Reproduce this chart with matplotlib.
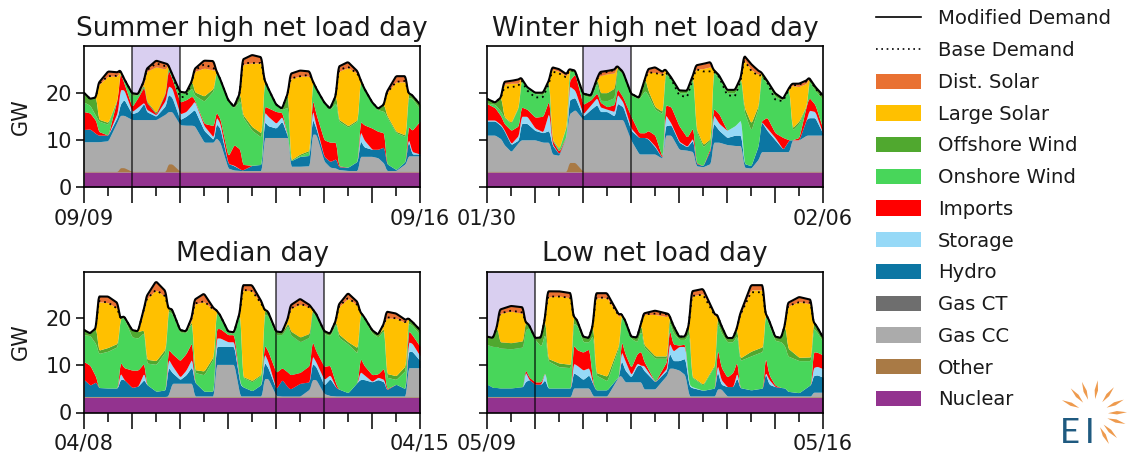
import numpy as np
import matplotlib
matplotlib.use("Agg")
import matplotlib.pyplot as plt
from matplotlib.patches import Patch, Polygon
from matplotlib.lines import Line2D

plt.rcParams['font.family'] = ['DejaVu Sans']

FIG_W, FIG_H = 1141, 453
NUCLEAR = 3.2

# ----- hours of the day where values were read, per panel -----
HOURS_SUMMER = [0, 3, 6, 7.2, 12, 16.8, 18, 20]
HOURS_WINTER = [0, 4, 7, 8.5, 12, 15.8, 17, 20]
HOURS_MEDIAN = [0, 3, 6, 7.2, 12, 16.8, 18, 20]
HOURS_LOW = [0, 3, 5, 6.3, 12, 18, 19, 21]

# ----- summer high net load week: top of each layer, GW -----
S_DEMAND = [20, 18.7, 19, 22, 24.5, 24.3, 24.8, 23,
            19.9, 19.7, 22.5, 25, 26.8, 26.2, 26, 24,
            20.2, 20, 22.5, 25, 26.8, 26.7, 24.8, 23,
            18.5, 17, 20, 27, 28, 27.5, 23, 21,
            17.5, 16.6, 20, 24, 24.7, 24.5, 22.8, 21,
            18, 16.6, 19.5, 25.5, 26.5, 24.5, 23, 21,
            18, 16.6, 17.5, 20, 23.5, 23.5, 20, 19.5, 17.5]
S_BASE = [20, 18.7, 19, 21.8, 23.5, 23.6, 24.6, 23,
          19.9, 19.7, 22.4, 24.7, 26.2, 25.6, 26, 24,
          19, 19.2, 22.4, 24.7, 26, 25.2, 24.8, 23,
          18.5, 17, 20, 26.3, 26.3, 26.3, 23, 21,
          17.5, 16.6, 20, 23, 23.5, 23.8, 22.8, 21,
          18, 16.6, 19.5, 24.8, 25.5, 24, 23, 21,
          18, 16.6, 17.5, 19.8, 22.3, 22.5, 20, 19.5, 17.5]
S_SOLAR = [0, 0, 0, 21.6, 23.5, 23.5, 0, 0,
           0, 0, 22, 24.5, 25.5, 25, 0, 0,
           0, 0, 0, 24.5, 25.2, 24.8, 0, 0,
           0, 0, 0, 26, 26.3, 26.3, 0, 0,
           0, 0, 0, 23, 23.5, 23.5, 0, 0,
           0, 0, 0, 24.5, 25.3, 24, 0, 0,
           0, 0, 0, 19.8, 22.3, 22.3, 0, 0, 0]
S_OFFSHORE = [20, 18.7, 15.5, 14.4, 13.7, 16.3, 24.8, 23,
              19.9, 19.7, 21.8, 18.3, 15.8, 20.2, 26, 24,
              20.2, 20, 21.5, 20.2, 19.3, 21, 24.8, 23,
              18.5, 17, 18.8, 15.5, 12.8, 11.4, 23, 21,
              17.5, 16.6, 17.2, 5.7, 7, 7.8, 22.8, 21,
              18, 16.6, 18.2, 14.4, 13, 14.3, 23, 21,
              18, 16.6, 16.5, 15.4, 11.8, 11, 20, 19.5, 17.5]
S_ONSHORE = [18, 17.3, 15, 14, 13.3, 16, 24.5, 22.5,
             19.4, 19.6, 21.5, 18, 15.6, 20, 25.5, 24.3,
             20, 19.8, 21, 19.5, 18.2, 20.5, 24.6, 22.8,
             18.3, 16.8, 18.5, 15, 12, 10.5, 22.5, 20.8,
             17.3, 16.4, 17, 5.5, 6.7, 7.5, 22.5, 20.8,
             17.8, 16.5, 18, 14, 12.7, 14, 22.7, 20.8,
             17.8, 16.4, 16, 15, 11.5, 10.7, 19, 18.8, 16.5]
S_IMPORTS = [16, 15.7, 14, 11.8, 11, 19, 24.4, 22,
             17, 19, 21.3, 18, 15.5, 20, 25, 23,
             18, 18.5, 19.3, 18.5, 13.5, 13, 16, 14.5,
             6.5, 9, 8, 4.8, 4.6, 4.8, 17.2, 16.8,
             16, 15.8, 7, 5.5, 6.5, 6.7, 19, 15.5,
             10, 9.5, 9.5, 4.5, 4.2, 5.5, 14, 13.2,
             12.5, 11.8, 11.5, 5, 3.7, 5.5, 13, 12, 14]
S_STORAGE = [12.2, 12.3, 11.3, 11, 11, 16, 20.7, 20.6,
             16, 17, 18, 16.5, 15.3, 18.5, 21.5, 21,
             15.5, 16, 17.5, 18.3, 13, 10.5, 15, 13.5,
             5, 4.6, 3.8, 3.6, 4.6, 4.8, 16, 15,
             13.5, 15, 7, 5.5, 6.5, 6.7, 16.8, 13,
             6.5, 5.4, 6, 4.3, 4.2, 5.5, 12, 10,
             8, 8, 8.5, 5, 3.7, 5.5, 10.5, 7.5, 7]
S_HYDRO = [12.2, 12.3, 11.3, 11, 11, 15, 17.5, 18.6,
           15.5, 16, 17.8, 16, 15, 17.3, 19.7, 19,
           14.3, 15, 16, 16.5, 12, 10, 13.5, 12.5,
           5, 4.5, 3.8, 3.6, 4.6, 4.8, 14, 13,
           12.5, 14, 7, 5.5, 6.5, 6.7, 14.7, 12.5,
           6.5, 5.4, 6, 4.3, 4.2, 5.5, 10, 8.5,
           8, 8, 8.5, 5, 3.7, 5.5, 10, 7, 7]
S_GAS = [9.6, 9.6, 9.6, 9.6, 9.8, 14, 15.2, 15.2,
         14.3, 14.3, 14.3, 14.3, 14.3, 15.5, 16, 16,
         13.2, 13.1, 13.1, 13, 9.5, 9.5, 10.5, 9.5,
         4, 3.6, 3.5, 3.5, 3.5, 3.5, 10.5, 10.5,
         10.5, 10.5, 10.5, 4.4, 4.4, 4.5, 11.2, 11.2,
         5.5, 4.2, 4, 3.7, 3.5, 3.5, 6.5, 6.5,
         6.5, 6.2, 5, 3.5, 3.5, 5, 6.6, 6.6, 6.6]
S_OTHER = [0.1, 0.1, 0.1, 0.1, 0.1, 0.1, 0.9, 0.9,
           0.1, 0.1, 0.1, 0.1, 0.1, 0.1, 1.7, 1.7,
           0.1, 0.1, 0.1, 0.1, 0.1, 0.1, 0.1, 0.1,
           0.1, 0.1, 0.1, 0.1, 0.1, 0.1, 0.1, 0.1,
           0.1, 0.1, 0.1, 0.1, 0.1, 0.1, 0.1, 0.1,
           0.1, 0.1, 0.1, 0.1, 0.1, 0.1, 0.1, 0.1,
           0.1, 0.1, 0.1, 0.1, 0.1, 0.1, 0.1, 0.1, 0.1]

# ----- winter high net load week -----
W_DEMAND = [18.7, 17.9, 19, 22.3, 22.5, 22.8, 23.2, 21.2,
            20, 20, 22.6, 25.4, 25, 23.9, 25, 24.7,
            19.8, 19.4, 23, 24.4, 24.6, 24.9, 25.7, 24.4,
            19.8, 18.9, 23, 25, 25.4, 24.4, 25, 23.3,
            20.5, 20.4, 23.7, 25.8, 26.1, 26.5, 25, 23.7,
            20.6, 20.6, 23.3, 27.9, 26.1, 24.6, 24.4, 22.6,
            19.9, 18.7, 21, 21.9, 21.9, 22.6, 23.2, 21.3, 19.4]
W_BASE = [18.7, 17.9, 19, 21, 21.2, 21.4, 22.8, 20.5,
          19, 19, 22, 24.5, 24.1, 23.2, 24.8, 24.6,
          19.8, 19.4, 22.8, 24, 24.4, 24.8, 25.6, 24.4,
          19.8, 18.9, 22.8, 24.3, 24.2, 23.7, 24.5, 23,
          19.5, 19, 23, 25, 24.5, 24.5, 24.7, 23.4,
          19.5, 19.2, 22.8, 27, 24.7, 23.5, 23.8, 22.3,
          18.5, 18.2, 20.8, 21.5, 21.7, 22.4, 23, 21, 19]
W_SOLAR = [0, 0, 0, 21.8, 22, 22, 0, 0,
           0, 0, 0, 25, 24.5, 23.5, 0, 0,
           0, 0, 0, 23.6, 24, 24.2, 0, 0,
           0, 0, 0, 24.3, 24.3, 24, 0, 0,
           0, 0, 0, 25, 25.1, 25.5, 0, 0,
           0, 0, 0, 27, 24.9, 23.8, 0, 0,
           0, 0, 0, 21.5, 21.3, 22, 0, 0, 0]
W_OFFSHORE = [18, 18, 16.3, 14.9, 13.7, 17.2, 23, 21.2,
              20, 20, 22.5, 10.2, 8.2, 13.2, 25, 24.7,
              19.8, 19.4, 23, 20, 20, 21, 25.6, 24.4,
              19.8, 18.9, 21.5, 20.5, 17, 16, 25, 23.3,
              20.5, 20.4, 23.7, 12.5, 9, 10.3, 25, 23.7,
              20.6, 20.6, 23.3, 17, 13.5, 17.5, 24.3, 22.6,
              19.9, 18.7, 21, 12.5, 14, 17.5, 23.2, 21.3, 19.4]
W_ONSHORE = [17.8, 17.5, 16, 14.7, 13.5, 17, 22.8, 21,
             19.8, 19.6, 22, 10, 8, 13, 24.5, 24.5,
             19.5, 19, 22.3, 18.4, 18.3, 19, 25, 24,
             19.5, 18.7, 20.5, 19.5, 16.5, 15.5, 24, 23,
             20, 20, 23, 12, 8.5, 10, 24.5, 23,
             20, 20, 23, 16, 12, 17, 23.5, 22,
             19.2, 18.4, 21, 12, 13.5, 17, 22.5, 20.5, 18.5]
W_IMPORTS = [17.7, 16.8, 15, 13.5, 12, 13, 17, 16.5,
             14.8, 15, 18.5, 10, 7.5, 11, 22.5, 24,
             17.5, 18.5, 20, 18, 17, 17.5, 21, 19,
             15, 11.5, 11.5, 12, 11, 6, 17.5, 17,
             13, 10.5, 12.7, 5.2, 4.5, 8.5, 16.8, 15.5,
             12, 13, 14.3, 5, 4.5, 9, 14, 14.8,
             11.5, 10.5, 10, 9.5, 10.5, 17.5, 19, 17.5, 12.3]
W_STORAGE = [14.2, 14.2, 13.2, 12.2, 9.2, 11, 15, 15,
             12.5, 11.7, 16, 9.2, 7, 11, 21.5, 20.5,
             15.5, 17.5, 19, 17, 16.5, 16, 19.8, 18,
             12.5, 10.5, 10.5, 10.3, 8.7, 6, 15.5, 13.5,
             9.7, 8.6, 10.5, 5, 4.5, 8, 15.5, 13.5,
             12, 13, 14.3, 5, 4.5, 9, 14, 12.5,
             10.5, 8, 10, 8.8, 9, 14.5, 16.3, 16, 11.3]
W_HYDRO = [14, 14, 13, 12, 9, 10, 13.5, 13.5,
           12, 11.5, 12, 9, 7, 11, 18.5, 19,
           15, 16.5, 17.5, 16, 16, 15, 17.8, 17,
           12, 10.5, 10.5, 10.2, 8.5, 6, 13, 13.2,
           9.5, 8.5, 10, 5, 4.5, 8, 13.7, 12,
           10.5, 11, 11, 5, 4.5, 9, 14, 12,
           10, 8, 10, 8.8, 9, 14.5, 14.7, 14.7, 11.3]
W_GAS = [11, 11, 10.2, 9, 7.5, 9.5, 10, 10,
         10, 9.5, 9.5, 7, 6.7, 11, 15.5, 16.4,
         14.3, 14.3, 14.3, 14.3, 14.3, 14.3, 14.3, 14.3,
         9.9, 7, 7, 7, 7, 6, 11, 11,
         8, 7.8, 7.5, 4.5, 4.3, 5, 9.5, 9.5,
         9, 8.8, 8.8, 4.2, 4, 6, 7.5, 7.5,
         7.5, 7.5, 7.5, 10, 10, 11, 11, 11, 11]
W_OTHER = [0.1, 0.1, 0.1, 0.1, 0.1, 0.1, 0.1, 0.1,
           0.1, 0.1, 0.1, 0.1, 0.1, 0.1, 2, 2,
           0.1, 0.1, 0.1, 0.1, 0.1, 0.1, 0.1, 0.1,
           0.1, 0.1, 0.1, 0.1, 0.1, 0.1, 0.1, 0.1,
           0.1, 0.1, 0.1, 0.1, 0.1, 0.1, 0.1, 0.1,
           0.1, 0.1, 0.1, 0.1, 0.1, 0.1, 0.1, 0.1,
           0.1, 0.1, 0.1, 0.1, 0.1, 0.1, 0.1, 0.1, 0.1]

# ----- median week -----
M_DEMAND = [17.5, 16.8, 17.9, 24.6, 24.6, 23.2, 20, 20.4,
            17.5, 17.2, 22, 24.6, 27.8, 25.7, 22.1, 21.9,
            17.5, 17.2, 20.3, 23.9, 25.2, 22.1, 21.8, 20.7,
            17.2, 17, 21.4, 27, 27, 23.5, 21.9, 21.4,
            17.2, 17, 20, 22.7, 24.1, 22.8, 22.1, 21,
            17.3, 16.7, 19.6, 22.8, 25.3, 23.4, 21.4, 20.3,
            17.5, 16.5, 18.9, 21.4, 21, 19.6, 20, 19.3, 17.5]
M_BASE = [17.5, 16.8, 17.9, 23.7, 23.3, 22, 20, 20.4,
          17.5, 17.2, 21.9, 24, 26, 24.6, 22.1, 21.9,
          17.5, 17.2, 20.1, 23.1, 23.6, 21.8, 21.8, 20.7,
          17.2, 17, 21.3, 26, 25.8, 23, 21.9, 21.4,
          17.2, 17, 19.9, 22, 23.1, 22.3, 22.1, 21,
          17.3, 16.7, 19.5, 22.4, 24.3, 22.8, 21.4, 20.3,
          17.5, 16.5, 18.8, 20.2, 20, 19.1, 20, 19.3, 17.5]
M_SOLAR = [0, 0, 0, 23.5, 23.3, 22, 0, 0,
           0, 0, 21.7, 24, 26, 24.5, 0, 0,
           0, 0, 19.8, 23, 23.5, 21.7, 0, 0,
           0, 0, 21.2, 26, 25.8, 22.8, 0, 0,
           0, 0, 19.8, 22, 23, 22.3, 0, 0,
           0, 0, 19.4, 22.3, 24.2, 22.7, 0, 0,
           0, 0, 18.7, 20, 20, 19, 0, 0, 0]
M_OFFSHORE = [17.5, 16.8, 15, 13.2, 13.8, 14.7, 20, 20.4,
              17.5, 17.2, 17.5, 11.3, 11, 13.6, 22.1, 21.9,
              17.5, 17.2, 19.5, 9.1, 8.8, 12, 21.8, 20.7,
              17.2, 17, 21.4, 7.7, 6.8, 8.2, 21.9, 21.4,
              17.2, 17, 19, 17.3, 16, 16.8, 22.1, 21,
              17.3, 16.7, 19.4, 16.7, 15, 13.7, 21.4, 20.3,
              17.5, 16.5, 18, 8.3, 7.8, 10, 20, 19.3, 17.5]
M_ONSHORE = [16.5, 16.3, 14.5, 12.5, 13, 14, 20, 20,
             16, 15.8, 17, 10.5, 10.2, 13, 21.5, 21,
             17, 17, 19, 8.5, 8, 11.5, 21.5, 20,
             17, 16.8, 21, 7.5, 6.5, 8, 21, 20.5,
             16.5, 16.5, 18.5, 16.5, 15, 16, 21.5, 20.5,
             16.7, 16.3, 19, 16, 14.5, 12.5, 21, 20,
             16.8, 16, 17.5, 7.5, 7, 9, 19, 18.5, 16.5]
M_IMPORTS = [10.8, 10, 7.5, 5.3, 5.2, 5.2, 10.8, 9.5,
             9, 9, 10.5, 6, 4.5, 4.8, 13.5, 12.5,
             11, 12.5, 15, 6.5, 4.5, 4.5, 17.8, 17.8,
             16.5, 16.5, 6.2, 5.5, 4.6, 6, 14.5, 13,
             8.5, 9.5, 8.5, 8, 8.5, 10, 15.3, 13,
             9.8, 10, 6, 5, 4.2, 6.5, 11.7, 10,
             8, 8.2, 9.5, 5, 6, 5, 17.5, 16.5, 14]
M_STORAGE = [7, 5.8, 6.5, 5.3, 5.2, 5.2, 8.5, 7,
             5.3, 5.6, 8.5, 6, 4.5, 4.8, 11.5, 10,
             7.5, 9, 11.5, 6.5, 4.5, 4.5, 15.8, 15.8,
             15, 15, 6.2, 5.5, 4.6, 6, 12.7, 10.8,
             5, 7, 5.3, 5, 6.2, 6.5, 12.2, 10.7,
             7, 8, 5.3, 5, 4.2, 6.5, 8.7, 8,
             6.6, 7.5, 7, 4.8, 6, 5, 15, 14.7, 12]
M_HYDRO = [7, 5.8, 6.5, 5.3, 5.2, 5.2, 7, 7,
           5.3, 5.6, 7, 6, 4.5, 4.8, 9.7, 8.5,
           7, 8, 9.8, 6.5, 4.5, 4.5, 14, 14,
           14, 14, 6, 5.5, 4.6, 6, 10.8, 9.5,
           5, 7, 5.3, 5, 6.2, 6.5, 10.5, 9.7,
           5.8, 7.2, 5.3, 5, 4.2, 6.5, 7, 7,
           6.5, 7, 6.5, 4.8, 6, 5, 13, 13, 11]
M_GAS = [3.4, 3.4, 3.4, 3.4, 3.4, 3.4, 3.4, 3.4,
         3.4, 3.4, 3.4, 3.4, 3.4, 3.4, 3.5, 6.2,
         6.2, 6.2, 6.2, 3.5, 3.5, 3.5, 10.2, 10.2,
         10.2, 10.2, 3.5, 3.5, 3.5, 3.5, 7.2, 7.2,
         3.6, 3.5, 3.5, 3.5, 3.5, 5, 7, 7,
         4, 3.6, 3.5, 3.5, 3.5, 3.5, 3.5, 3.5,
         3.5, 3.5, 3.5, 3.5, 3.5, 3.5, 9.5, 9.5, 9.5]
M_OTHER = [0.1] * 57

# ----- low net load week -----
L_DEMAND = [16.1, 15.8, 18.2, 21.8, 22.6, 22.3, 19.3, 18.6,
            15.8, 15.9, 20, 25.7, 25.7, 25.3, 20.6, 19.6,
            16.1, 15.8, 18.6, 25.3, 25.3, 20.7, 21, 19.6,
            16.1, 15.9, 18.9, 21, 21.6, 21, 20.8, 18.6,
            16.1, 16.1, 18.6, 25.7, 26.2, 20.7, 20.8, 18.6,
            15.8, 15.8, 17.9, 20.6, 27, 27, 21.3, 19.6,
            16.1, 15.8, 18.6, 23.2, 24.5, 23.9, 19.4, 18.2, 15.9]
L_BASE = [16.1, 15.8, 18.2, 21, 21.6, 21.2, 19.3, 18.6,
          15.8, 15.9, 20, 24.6, 24.6, 24.3, 20.6, 19.6,
          16.1, 15.8, 18.6, 24.3, 24.4, 20.5, 21, 19.6,
          16.1, 15.9, 18.9, 20.8, 21, 20.8, 20.8, 18.6,
          16.1, 16.1, 18.6, 24.7, 25, 20.5, 20.8, 18.6,
          15.8, 15.8, 17.9, 20.4, 25.5, 25.5, 21.3, 19.6,
          16.1, 15.8, 18.6, 22.6, 23.4, 23.3, 19.4, 18.2, 15.9]
L_SOLAR = [0, 0, 0, 21, 21.5, 21, 0, 0,
           0, 0, 0, 24.5, 24.7, 24.3, 0, 0,
           0, 0, 0, 24.3, 24.3, 20.2, 0, 0,
           0, 0, 0, 20.8, 20.8, 20.3, 0, 0,
           0, 0, 0, 24.7, 25.2, 20.3, 0, 0,
           0, 0, 0, 20.3, 26, 26, 0, 0,
           0, 0, 0, 22.5, 23.5, 23, 0, 0, 0]
L_OFFSHORE = [16.1, 15.8, 14.8, 15, 14.8, 15.2, 19.3, 18.6,
              15.8, 15.9, 17.2, 11.5, 10.5, 10.2, 20.6, 19.6,
              16.1, 15.8, 16.8, 8.5, 7.7, 14.5, 21, 19.6,
              16.1, 15.9, 18, 14.5, 12, 12, 20.8, 18.6,
              16.1, 16.1, 17.5, 7.7, 6, 10.3, 20.8, 18.6,
              15.8, 15.8, 17, 11.5, 13, 14, 21.3, 19.6,
              16.1, 15.8, 14.5, 13.7, 11.7, 11.8, 19.4, 18.2, 15.9]
L_ONSHORE = [14.4, 14, 14, 13.7, 13.5, 13.9, 17.5, 18,
             15.5, 14, 17, 11, 9.7, 9.5, 19, 18.5,
             15, 15, 16.5, 8, 6.7, 14, 20.5, 19,
             15.7, 15, 17.5, 14, 11.5, 11.5, 19.5, 17,
             15.5, 15.5, 17, 7.5, 5.8, 10, 19.3, 17,
             15, 15, 16.5, 11, 12, 13, 21, 18.5,
             15.3, 15, 14, 12, 11, 11, 18, 17, 15]
L_IMPORTS = [6, 5.3, 5.3, 5.2, 5.2, 5.5, 9.3, 7.5,
             6.5, 6.5, 8.7, 5.2, 5.2, 5.2, 14.5, 13.3,
             12.8, 13.5, 6.2, 4.8, 4.8, 7, 15.5, 12.5,
             9.5, 12.5, 13, 11, 6.5, 11, 18, 14.5,
             14.3, 14.5, 6, 5.5, 4.7, 5.2, 14, 9.7,
             7.5, 8.5, 11, 5.3, 4.8, 5.2, 12.2, 8,
             5.8, 5.3, 5.2, 4.5, 4.2, 6, 12.9, 12.8, 12.2]
L_STORAGE = [6, 5.3, 5.3, 5.2, 5.2, 5.5, 8.8, 7,
             6, 6, 8.7, 5.2, 5.2, 5.2, 10.5, 10,
             9, 9.5, 6, 4.8, 4.8, 7, 13.2, 11,
             8, 10.5, 10, 10, 6.5, 9.5, 15, 13,
             14, 14, 6, 5.5, 4.7, 5.2, 10.5, 7,
             5.5, 5.5, 8.7, 5.3, 4.8, 5.2, 8.7, 7,
             5.5, 5.3, 5.2, 4.5, 4.2, 6, 9.5, 9.8, 9.3]
L_HYDRO = [6, 5.3, 5.3, 5.2, 5.2, 5.5, 6.5, 7,
           6, 6, 7, 5.2, 5.2, 5.2, 8.5, 8,
           7, 8, 6, 4.8, 4.8, 7, 11.3, 9,
           7.5, 10, 10, 9, 6.5, 9, 12.8, 11,
           11, 11.5, 5.7, 5.3, 4.7, 5.2, 9, 6,
           5.5, 5.5, 7.5, 5.3, 4.8, 5.2, 8.5, 6,
           5.5, 5.3, 5.2, 4.5, 4.2, 6, 7.8, 8, 7.5]
L_GAS = [3.4, 3.4, 3.4, 3.4, 3.4, 3.4, 3.4, 3.4,
         3.4, 3.4, 3.4, 3.4, 3.4, 3.4, 5.2, 5.2,
         5.2, 5.2, 3.5, 3.5, 3.5, 7.8, 7.8, 6.5,
         6.5, 6.5, 6.5, 5, 5, 8, 9.4, 9.4,
         9, 8, 3.5, 3.5, 3.5, 3.5, 5, 5,
         3.5, 3.5, 3.5, 3.5, 3.5, 3.5, 3.5, 3.5,
         3.5, 3.5, 3.5, 3.5, 3.5, 3.5, 4.3, 4.3, 4.3]
L_OTHER = [0.1] * 57

TITLES = ["Summer high net load day", "Winter high net load day",
          "Median day", "Low net load day"]
START_LABELS = ["09/09", "01/30", "04/08", "05/09"]
END_LABELS = ["09/16", "02/06", "04/15", "05/16"]
HIGHLIGHT_DAY = [1, 2, 4, 0]

LEGEND_LABELS = ["Dist. Solar", "Large Solar", "Offshore Wind", "Onshore Wind",
                 "Imports", "Storage", "Hydro", "Gas CT", "Gas CC", "Other", "Nuclear"]
COLORS = ["#E97132", "#FFC000", "#50A82F", "#48D65A", "#FF0000", "#96D9F7",
          "#0C76A3", "#6E6E6E", "#ABABAB", "#A97A45", "#93338F"]

# pixel boxes of the panels: left, top, right, bottom
BOXES = [(84, 46, 420, 187), (487, 46, 823, 187),
         (84, 271.5, 420, 412.5), (487, 271.5, 823, 412.5)]

# angles of the logo rays, degrees (y axis of the logo runs downwards)
RAY_ANGLES = [-156, -131, -109, -82, -52, -25, -3, 17, 45, 62]


def rounded(x, fine, y):
    # read values are sparse, so take the corners off the polyline
    k = 5
    v = np.interp(fine, x, y)
    v = np.pad(v, k // 2, mode="edge")
    return np.convolve(v, np.ones(k) / k, mode="valid")


def draw_week(ax, hours, demand, base, solar, offshore, onshore, imports, storage, hydro, gas, other, highlight):
    x = np.array([24 * d + h for d in range(7) for h in hours] + [168])
    fine = np.arange(0, 168.01, 0.25)
    demand = np.array(demand, float)
    solar = np.array(solar, float)
    # no sun: the wind layer runs right up to the demand line
    offshore = np.where(solar > 0, offshore, demand)
    layers = [np.full(len(x), NUCLEAR), gas, hydro, storage, imports, onshore, offshore, solar, demand]
    tops = np.maximum.accumulate(np.array(layers, float), axis=0)
    tops = np.minimum(tops, demand)
    tops = [rounded(x, fine, t) for t in tops]
    ax.axvspan(24 * highlight, 24 * highlight + 24, color="#D9CFF0", lw=0, zorder=0)
    cols = ["#ABABAB", "#0C76A3", "#96D9F7", "#FF0000", "#48D65A", "#50A82F", "#FFC000", "#E97132"]
    ax.fill_between(fine, 0, tops[0], color="#93338F", lw=0, zorder=1)
    for i, c in enumerate(cols):
        ax.fill_between(fine, tops[i], tops[i + 1], color=c, lw=0, zorder=1)
    ax.fill_between(fine, NUCLEAR, NUCLEAR + rounded(x, fine, other), color="#A97A45", lw=0, zorder=1.5)
    ax.plot(fine, rounded(x, fine, base), color="black", lw=1.3, ls=(0, (1, 2.2)), zorder=2)
    ax.plot(fine, tops[-1], color="black", lw=1.5, zorder=3)
    for d in (highlight, highlight + 1):
        ax.axvline(24 * d, color="black", lw=1.3, alpha=0.65, zorder=4)
    ax.set_xlim(0, 168)
    ax.set_ylim(0, 29.9)


fig = plt.figure(figsize=(FIG_W / 100, FIG_H / 100), dpi=100)

weeks = [
    (HOURS_SUMMER, S_DEMAND, S_BASE, S_SOLAR, S_OFFSHORE, S_ONSHORE, S_IMPORTS, S_STORAGE, S_HYDRO, S_GAS, S_OTHER),
    (HOURS_WINTER, W_DEMAND, W_BASE, W_SOLAR, W_OFFSHORE, W_ONSHORE, W_IMPORTS, W_STORAGE, W_HYDRO, W_GAS, W_OTHER),
    (HOURS_MEDIAN, M_DEMAND, M_BASE, M_SOLAR, M_OFFSHORE, M_ONSHORE, M_IMPORTS, M_STORAGE, M_HYDRO, M_GAS, M_OTHER),
    (HOURS_LOW, L_DEMAND, L_BASE, L_SOLAR, L_OFFSHORE, L_ONSHORE, L_IMPORTS, L_STORAGE, L_HYDRO, L_GAS, L_OTHER),
]

for i, week in enumerate(weeks):
    l, t, r, b = BOXES[i]
    ax = fig.add_axes([l / FIG_W, 1 - b / FIG_H, (r - l) / FIG_W, (b - t) / FIG_H])
    draw_week(ax, *week, HIGHLIGHT_DAY[i])
    ax.set_title(TITLES[i], fontsize=19, pad=7.5, color="#1a1a1a")
    ax.set_xticks(np.arange(0, 169, 24))
    ax.set_xticks(np.arange(12, 168, 24), minor=True)
    ax.set_xticklabels([START_LABELS[i]] + [""] * 6 + [END_LABELS[i]])
    ax.set_yticks([0, 10, 20])
    ax.tick_params(axis="x", which="major", length=11.3, width=1.1, pad=4, labelsize=15, labelcolor="#1a1a1a")
    ax.tick_params(axis="x", which="minor", length=6.7, width=1.1)
    ax.tick_params(axis="y", length=5.8, width=1.1, labelsize=15, labelcolor="#1a1a1a", pad=3)
    if i % 2 == 0:
        ax.set_ylabel("GW", fontsize=15, color="#1a1a1a")
        ax.yaxis.set_label_coords(-0.158, 0.5)
    else:
        ax.set_yticklabels([])
    for s in ax.spines.values():
        s.set_linewidth(1.2)

handles = [Line2D([], [], color="black", lw=1.2),
           Line2D([], [], color="black", lw=1.2, ls=(0, (1, 2.2)))]
handles += [Patch(color=c, lw=0) for c in COLORS]
fig.legend(handles, ["Modified Demand", "Base Demand"] + LEGEND_LABELS,
           loc="upper left", bbox_to_anchor=(876 / FIG_W, 1 - 9.5 / FIG_H), frameon=False,
           fontsize=14.1, handlelength=2.3, handleheight=0.82, handletextpad=0.87,
           labelspacing=0.65, borderaxespad=0, borderpad=0, labelcolor="#1a1a1a")

# logo, drawn in pixel coordinates
logo = fig.add_axes([0, 0, 1, 1], zorder=5)
logo.set_xlim(0, FIG_W)
logo.set_ylim(FIG_H, 0)
logo.axis("off")
cx, cy = 1093, 414
for a in RAY_ANGLES:
    u = np.array([np.cos(np.radians(a)), np.sin(np.radians(a))])
    n = np.array([-u[1], u[0]])
    c = np.array([cx, cy])
    logo.add_patch(Polygon([c + 15 * u, c + 24 * u + 1.7 * n, c + 34 * u, c + 24 * u - 1.7 * n],
                           color="#EE9A4D", lw=0))
logo.text(1069.5, 433, "E", fontsize=25, family="Lato", color="#1F5A80", ha="center", va="center")
logo.text(1090, 433, "I", fontsize=25, family="Lato", color="#1F5A80", ha="center", va="center")

fig.savefig("out.png", dpi=100)
